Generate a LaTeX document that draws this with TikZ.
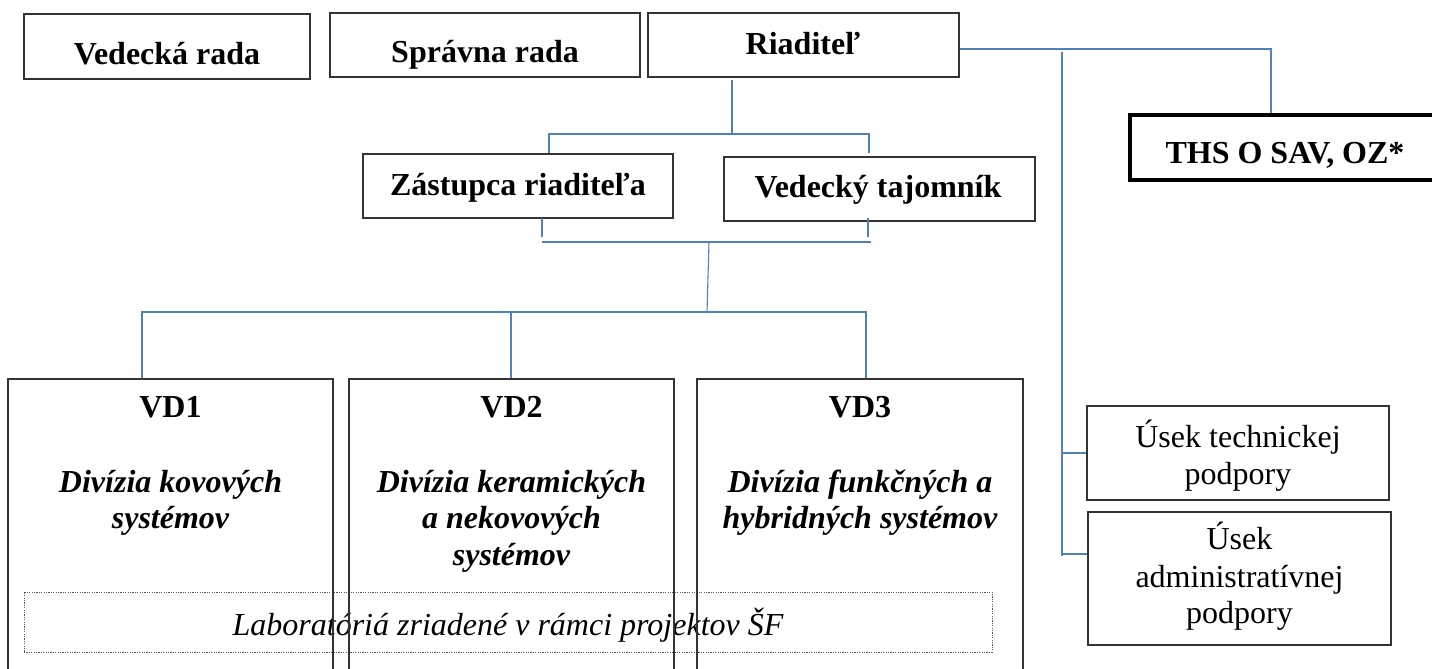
\documentclass[tikz,border=0pt]{standalone}
\usepackage{fontspec}
\setmainfont{Liberation Serif}
\definecolor{connblue}{RGB}{79,129,189}
\begin{document}
\begin{tikzpicture}[x=1pt,y=-1pt,
  box/.style={draw=black!80, line width=1.2pt, inner sep=0pt},
  thsbox/.style={draw=black, line width=3.5pt, inner sep=0pt},
  dotbox/.style={draw=black!65, line width=0.8pt, dash pattern=on 1.2pt off 1.2pt, inner sep=0pt},
  txt/.style={font=\fontsize{32}{37}\selectfont, inner sep=0pt, anchor=base},
  btxt/.style={font=\fontsize{32}{37}\selectfont\bfseries, inner sep=0pt, anchor=base},
  bitxt/.style={font=\fontsize{32}{37}\selectfont\bfseries\itshape, inner sep=0pt, anchor=base},
  itxt/.style={font=\fontsize{32}{37}\selectfont\itshape, inner sep=0pt, anchor=base},
  conn/.style={draw=connblue, line width=1.1pt}]
\useasboundingbox (0,0) rectangle (1432,669);
\clip (0,0) rectangle (1432,669);

% top row
\node[box, minimum width=286pt, minimum height=65pt] (vr) at (167,46.5) {};
\node[btxt] (vrt) at (167,65) {Vedecká rada};
\node[box, minimum width=310pt, minimum height=64pt] (sr) at (485,45) {};
\node[btxt] (srt) at (485,63) {Správna rada};
\node[box, minimum width=311pt, minimum height=64pt] (ri) at (803.5,45) {};
\node[btxt] (rit) at (803,55) {Riaditeľ};
\node[thsbox, minimum width=310pt, minimum height=65pt] (ths) at (1285,147.5) {};
\node[btxt] (thst) at (1285,163) {THS O SAV, OZ*};

% second row
\node[box, minimum width=310pt, minimum height=64pt] (zr) at (518,186) {};
\node[btxt] (zrt) at (518,195) {Zástupca riaditeľa};
\node[box, minimum width=311pt, minimum height=64pt] (vt) at (879.5,189) {};
\node[btxt] (vtt) at (878,197) {Vedecký tajomník};

% divisions
\node[dotbox, minimum width=968pt, minimum height=60pt] (lab) at (508,622) {};
\node[itxt] (labt) at (508,635) {Laboratóriá zriadené v rámci projektov ŠF};

\node[box, minimum width=325pt, minimum height=321pt] (vd1) at (170.5,539.5) {};
\node[btxt] (vd1a) at (170.5,417) {VD1};
\node[bitxt] (vd1b) at (170.5,492) {Divízia kovových};
\node[bitxt] (vd1c) at (170.5,528) {systémov};

\node[box, minimum width=325pt, minimum height=321pt] (vd2) at (511.5,539.5) {};
\node[btxt] (vd2a) at (511.5,417) {VD2};
\node[bitxt] (vd2b) at (511.5,492) {Divízia keramických};
\node[bitxt] (vd2c) at (511.5,528) {a nekovových};
\node[bitxt] (vd2d) at (511.5,565) {systémov};

\node[box, minimum width=326pt, minimum height=321pt] (vd3) at (860,539.5) {};
\node[btxt] (vd3a) at (860,417) {VD3};
\node[bitxt] (vd3b) at (860,492) {Divízia funkčných a};
\node[bitxt] (vd3c) at (860,528) {hybridných systémov};

% support sections
\node[box, minimum width=302pt, minimum height=94pt] (ut) at (1238,453) {};
\node[txt] (uta) at (1238,447) {Úsek technickej};
\node[txt] (utb) at (1238,484) {podpory};
\node[box, minimum width=303pt, minimum height=133pt] (ua) at (1239.5,578.5) {};
\node[txt] (uaa) at (1239.5,549) {Úsek};
\node[txt] (uab) at (1239.5,587) {administratívnej};
\node[txt] (uac) at (1239.5,623) {podpory};

% connector points
\coordinate (j1) at (1271,49);
\coordinate (s1) at (1062,52);
\coordinate (s2) at (1062,556);
\coordinate (t2) at (1062,554);
\coordinate (r1) at (732,80);
\coordinate (r2) at (732,134);
\coordinate (h1l) at (549,134);
\coordinate (h1r) at (869,134);
\coordinate (a1) at (549,153);
\coordinate (a2) at (869,153);
\coordinate (b1) at (542,218);
\coordinate (b1e) at (542,237);
\coordinate (b2) at (868,218);
\coordinate (b2e) at (868,237);
\coordinate (h2l) at (542,242);
\coordinate (h2r) at (871,242);
\coordinate (m1) at (709,242);
\coordinate (m2) at (707,312);
\coordinate (h3l) at (142,312);
\coordinate (h3r) at (866,312);
\coordinate (d2) at (511,312);

% connectors
\draw[conn] (ri.east |- j1) -- (j1) -- (ths.north -| j1);
\draw[conn] (s1) -- (s2);
\draw[conn] (ut.west -| s1) -- (ut.west);
\draw[conn] (t2) -- (ua.west |- t2);
\draw[conn] (r1) -- (r2);
\draw[conn] (a1) -- (h1l) -- (h1r) -- (a2);
\draw[conn] (b1) -- (b1e);
\draw[conn] (b2) -- (b2e);
\draw[conn] (h2l) -- (h2r);
\draw[conn] (m1) -- (m2);
\draw[conn] (vd1.north -| h3l) -- (h3l) -- (h3r) -- (vd3.north -| h3r);
\draw[conn] (d2) -- (vd2.north -| d2);
\end{tikzpicture}
\end{document}
